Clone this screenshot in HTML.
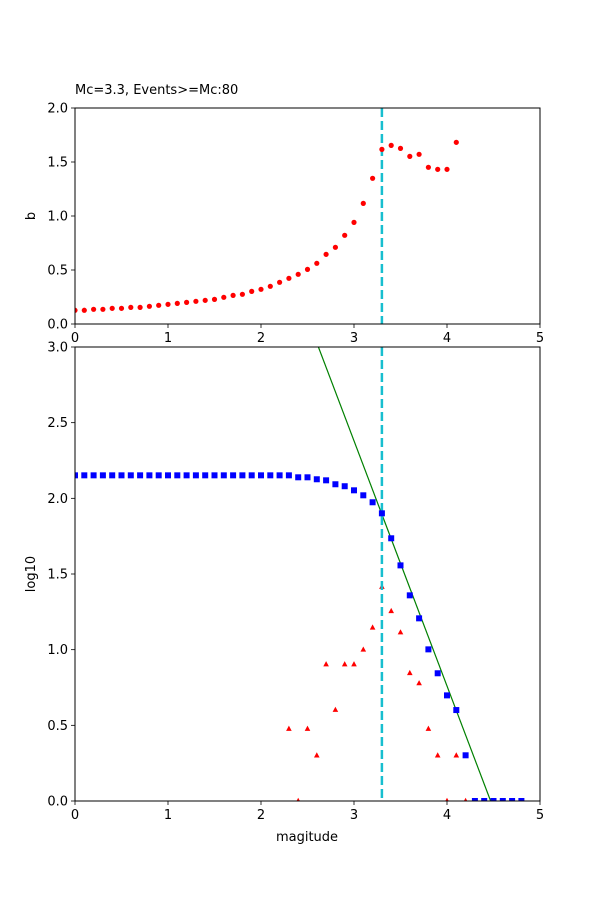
<!DOCTYPE html>
<html><head><meta charset="utf-8"><style>
html,body{margin:0;padding:0;background:#fff;}
svg{display:block;font-family:"DejaVu Sans","Liberation Sans",sans-serif;}
</style></head><body>
<svg id="fig" width="600" height="900" viewBox="0 0 600 900" xmlns="http://www.w3.org/2000/svg">
<rect width="600" height="900" fill="#fff"/>
<g id="top"></g>
<g id="bot"></g>
</svg>
<script>
const mags = [0,0.1,0.2,0.3,0.4,0.5,0.6,0.7,0.8,0.9,1.0,1.1,1.2,1.3,1.4,1.5,1.6,1.7,1.8,1.9,2.0,2.1,2.2,2.3,2.4,2.5,2.6,2.7,2.8,2.9,3.0,3.1,3.2,3.3,3.4,3.5,3.6,3.7,3.8,3.9,4.0,4.1,4.2,4.3,4.4,4.5,4.6,4.7,4.8];
const bValues = [0.127,0.127,0.136,0.136,0.145,0.145,0.154,0.154,0.164,0.173,0.182,0.191,0.200,0.210,0.219,0.228,0.247,0.265,0.275,0.302,0.321,0.349,0.386,0.423,0.460,0.506,0.562,0.645,0.710,0.821,0.941,1.117,1.349,1.617,1.654,1.626,1.552,1.571,1.451,1.432,1.432,1.682];
const cumLog = [2.152,2.152,2.152,2.152,2.152,2.152,2.152,2.152,2.152,2.152,2.152,2.152,2.152,2.152,2.152,2.152,2.152,2.152,2.152,2.152,2.152,2.152,2.152,2.152,2.139,2.139,2.126,2.119,2.093,2.080,2.053,2.020,1.974,1.901,1.736,1.557,1.359,1.207,1.002,0.844,0.698,0.601,0.302,0,0,0,0,0,0];
const nonCumMags = [2.3,2.4,2.5,2.6,2.7,2.8,2.9,3.0,3.1,3.2,3.3,3.4,3.5,3.6,3.7,3.8,3.9,4.0,4.1,4.2];
const nonCumLog = [0.477,0,0.477,0.301,0.903,0.602,0.903,0.903,1.0,1.146,1.415,1.255,1.114,0.845,0.778,0.477,0.301,0,0.301,0];
const Mc = 3.3;
const fitA = 7.24, fitB = 1.62;
const xTicks = [0,1,2,3,4,5];
const topYTicks = [0.0,0.5,1.0,1.5,2.0];
const botYTicks = [0.0,0.5,1.0,1.5,2.0,2.5,3.0];

const NS="http://www.w3.org/2000/svg";
function mk(parent,tag,attrs,text){const e=document.createElementNS(NS,tag);for(const k in attrs)e.setAttribute(k,attrs[k]);if(text!==undefined)e.textContent=text;parent.appendChild(e);return e;}
const L=75,R=540;
const x=v=>L+(v-0)/5*(R-L);
const topT=108,topB=324,botT=347,botB=801;
const yT=v=>topB-v/2*(topB-topT);
const yB=v=>botB-v/3*(botB-botT);

function axes(g,t,b,yf,yticks){
  xTicks.forEach(v=>{
    const ln=mk(g,'line',{x1:x(v),x2:x(v),y1:b,y2:b+4,stroke:'#000','stroke-width':0.8});
    
    const tx=mk(g,'text',{x:x(v),y:b+18,'font-size':13,'text-anchor':'middle',fill:'#000'},String(v));
    
  });
  yticks.forEach(v=>{
    const ln=mk(g,'line',{x1:L-4,x2:L,y1:yf(v),y2:yf(v),stroke:'#000','stroke-width':0.8});
    
    const tx=mk(g,'text',{x:L-7,y:yf(v)+4.5,'font-size':13,'text-anchor':'end',fill:'#000'},v.toFixed(1));
    
  });
}
function frame(g,t,b){
  const r=mk(g,'rect',{x:L,y:t,width:R-L,height:b-t,fill:'none',stroke:'#000','stroke-width':1});
  
}
function clip(id,t,b){const d=mk(document.getElementById('fig'),'clipPath',{id:id});mk(d,'rect',{x:L,y:t,width:R-L,height:b-t});}
clip('ct',topT,topB);clip('cb',botT,botB);

// top panel
const gt=document.getElementById('top');
const title=mk(gt,'text',{x:L,y:94,'font-size':13,fill:'#000'},'Mc=3.3, Events>=Mc:80');

const gtc=mk(gt,'g',{'clip-path':'url(#ct)'});
const mct=mk(gtc,'line',{x1:x(Mc),x2:x(Mc),y1:topT,y2:topB,stroke:'#17becf','stroke-width':2.5,'stroke-dasharray':'9,4'});

bValues.forEach((v,i)=>{
  const c=mk(gtc,'circle',{cx:x(mags[i]),cy:yT(v),r:2.6,fill:'#ff0000'});
  
});
axes(gt,topT,topB,yT,topYTicks);frame(gt,topT,topB);
const yl1=mk(gt,'text',{x:35,y:216,'font-size':13,'text-anchor':'middle',transform:'rotate(-90 35 216)'},'b');


// bottom panel
const gb=document.getElementById('bot');
const gbc=mk(gb,'g',{'clip-path':'url(#cb)'});
const fx0=(fitA-3)/fitB, fx1=fitA/fitB;
const fl=mk(gbc,'line',{x1:x(fx0),y1:yB(fitA-fitB*fx0),x2:x(fx1),y2:yB(fitA-fitB*fx1),stroke:'#008000','stroke-width':1.2});

nonCumLog.forEach((v,i)=>{
  const cx=x(nonCumMags[i]),cy=yB(v);
  const p=mk(gbc,'polygon',{points:`${cx},${cy-3.2} ${cx-2.8},${cy+2} ${cx+2.8},${cy+2}`,fill:'#ff0000'});
  
});
const mcb=mk(gbc,'line',{x1:x(Mc),x2:x(Mc),y1:botT,y2:botB,stroke:'#17becf','stroke-width':2.5,'stroke-dasharray':'9,4'});

cumLog.forEach((v,i)=>{
  const s=mk(gbc,'rect',{x:x(mags[i])-3,y:yB(v)-3,width:6,height:6,fill:'#0000ff'});
  
});
axes(gb,botT,botB,yB,botYTicks);frame(gb,botT,botB);
const yl2=mk(gb,'text',{x:35,y:574,'font-size':13,'text-anchor':'middle',transform:'rotate(-90 35 574)'},'log10');

const xl=mk(gb,'text',{x:307,y:841,'font-size':13,'text-anchor':'middle'},'magitude');

</script>
</body></html>
